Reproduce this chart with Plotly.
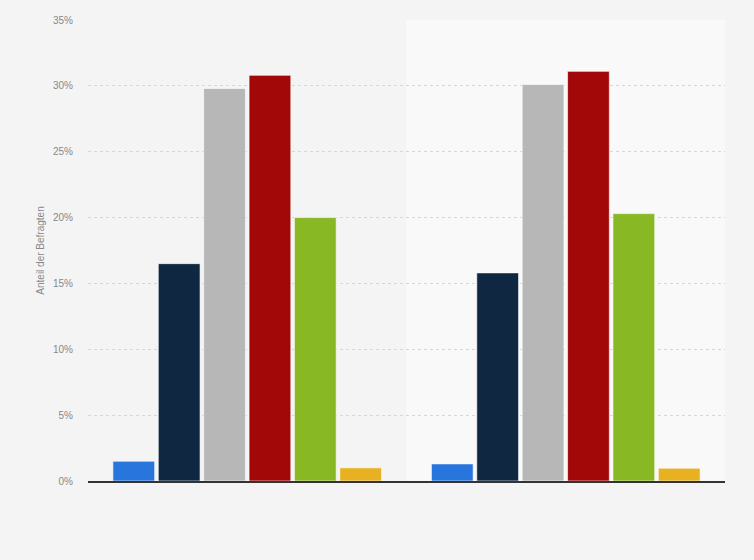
import plotly.graph_objects as go

# zwei Gruppen ohne Beschriftung, sechs Antwortkategorien je Gruppe
groups = ["Gruppe 1", "Gruppe 2"]
series_names = ["Kategorie 1", "Kategorie 2", "Kategorie 3",
                "Kategorie 4", "Kategorie 5", "Kategorie 6"]
series_colors = ["#2876dd", "#0f2741", "#b7b7b7", "#a30808", "#88b925", "#e8b122"]

values_group1 = [1.5, 16.5, 29.8, 30.8, 20.0, 1.0]
values_group2 = [1.3, 15.8, 30.1, 31.1, 20.3, 0.97]

y_ticks = [0, 5, 10, 15, 20, 25, 30, 35]
y_tick_labels = [f"{v}%" for v in y_ticks]

fig = go.Figure()

for i, name in enumerate(series_names):
    fig.add_trace(
        go.Bar(
            x=groups,
            y=[values_group1[i], values_group2[i]],
            name=name,
            marker=dict(
                color=series_colors[i],
                line=dict(color="rgba(255,255,255,0.6)", width=1)
            ),
            hovertemplate="%{y:.1f}%<extra>" + name + "</extra>"
        )
    )

# hellerer Hintergrund hinter der zweiten Gruppe
fig.add_shape(
    type="rect",
    xref="x", yref="paper",
    x0=0.5, x1=1.5, y0=0, y1=1,
    fillcolor="#f9f9f9",
    line=dict(width=0),
    layer="below"
)

fig.update_layout(
    width=754,
    height=560,
    margin=dict(l=88, r=29, t=20, b=79),
    paper_bgcolor="#f4f4f4",
    plot_bgcolor="#f4f4f4",
    barmode="group",
    bargap=0.145,
    bargroupgap=0.08,
    showlegend=False,
    font=dict(family="Arial, Liberation Sans, sans-serif", color="#888888")
)

fig.update_xaxes(
    showticklabels=False,
    showgrid=False,
    zeroline=False,
    showline=True,
    linecolor="#333333",
    linewidth=1.5,
    range=[-0.5, 1.5]
)

fig.update_yaxes(
    range=[0, 35],
    tickvals=y_ticks,
    ticktext=y_tick_labels,
    tickfont=dict(size=10, color="#888888"),
    showgrid=True,
    gridcolor="#d6d6d6",
    griddash="dot",
    gridwidth=1,
    zeroline=False,
    ticks="",
    ticklabelstandoff=14,
    title=dict(
        text="Anteil der Befragten",
        font=dict(size=10, color="#888888"),
        standoff=6
    )
)

# Seitenrand entfernen, damit die Grafik das ganze Fenster füllt
fig.write_html(
    "out.html",
    config={"displayModeBar": False},
    post_script="document.body.style.margin='0';"
                "document.body.style.background='#f4f4f4';"
)
